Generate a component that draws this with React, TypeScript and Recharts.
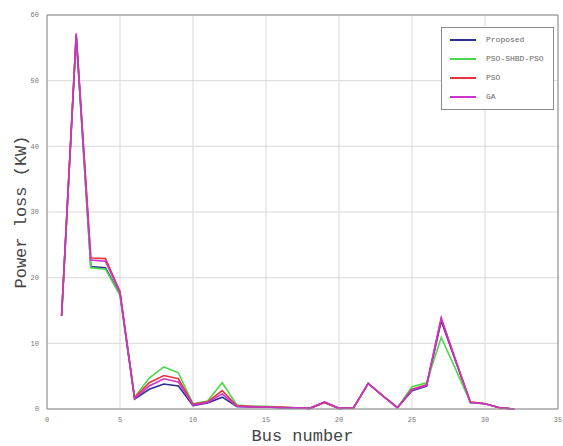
import React from "react";
import {
  LineChart,
  Line,
  XAxis,
  YAxis,
  CartesianGrid,
  ReferenceLine,
  Label,
} from "recharts";

// Bus numbers of the feeder
const busNumbers = [
  1, 2, 3, 4, 5, 6, 7, 8, 9, 10, 11, 12, 13, 14, 15, 16, 17, 18, 19, 20, 21,
  22, 23, 24, 25, 26, 27, 28, 29, 30, 31, 32,
];

// Power loss per bus (kW)
const proposedLoss = [
  14.2, 56.8, 21.7, 21.5, 17.4, 1.5, 3.0, 3.8, 3.5, 0.5, 0.9, 1.8, 0.4, 0.3,
  0.3, 0.2, 0.2, 0.1, 1.0, 0.1, 0.2, 3.9, 2.0, 0.2, 2.8, 3.5, 13.4, 7.2, 1.0,
  0.8, 0.2, 0.0,
];
const psoShbdPsoLoss = [
  14.2, 56.8, 21.5, 21.3, 17.3, 1.8, 4.7, 6.4, 5.5, 0.8, 1.2, 4.0, 0.6, 0.4,
  0.4, 0.3, 0.2, 0.1, 1.0, 0.1, 0.2, 3.9, 2.0, 0.2, 3.4, 4.0, 10.9, 6.0, 1.0,
  0.8, 0.2, 0.0,
];
const psoLoss = [
  14.2, 57.0, 23.0, 22.9, 17.9, 1.7, 4.0, 5.1, 4.6, 0.7, 1.1, 2.8, 0.5, 0.4,
  0.3, 0.3, 0.2, 0.1, 1.0, 0.1, 0.2, 3.9, 2.0, 0.2, 3.0, 3.7, 13.7, 7.3, 1.1,
  0.8, 0.2, 0.0,
];
const gaLoss = [
  14.2, 57.2, 22.7, 22.5, 17.7, 1.6, 3.5, 4.6, 4.1, 0.6, 1.0, 2.3, 0.4, 0.3,
  0.3, 0.2, 0.2, 0.1, 1.1, 0.1, 0.2, 3.9, 2.0, 0.2, 2.9, 3.6, 13.9, 7.4, 1.0,
  0.8, 0.2, 0.0,
];

const xTicks = [0, 5, 10, 15, 20, 25, 30, 35];
const yTicks = [0, 10, 20, 30, 40, 50, 60];

const series = [
  { key: "proposed", name: "Proposed", color: "#2b2f8f" },
  { key: "psoShbdPso", name: "PSO-SHBD-PSO", color: "#4cd84c" },
  { key: "pso", name: "PSO", color: "#e8323c" },
  { key: "ga", name: "GA", color: "#cc33cc" },
];

const data = busNumbers.map((bus, i) => ({
  bus,
  proposed: proposedLoss[i],
  psoShbdPso: psoShbdPsoLoss[i],
  pso: psoLoss[i],
  ga: gaLoss[i],
}));

const mono = "'Liberation Mono', 'DejaVu Sans Mono', monospace";
const frame = "#8c8c8c";

// Legend drawn as an overlay so it doesn't eat into the plot area
const LegendBox = () => (
  <div
    style={{
      position: "absolute",
      left: 441,
      top: 27,
      width: 113,
      boxSizing: "border-box",
      border: `1px solid ${frame}`,
      background: "#fff",
      padding: "2px 0 3px 8px",
      fontFamily: mono,
      fontSize: 8,
      color: "#666",
    }}
  >
    {series.map((s) => (
      <div
        key={s.key}
        style={{ display: "flex", alignItems: "center", height: 19 }}
      >
        <div
          style={{
            width: 26,
            height: 0,
            borderTop: `2px solid ${s.color}`,
            marginRight: 10,
          }}
        />
        <span>{s.name}</span>
      </div>
    ))}
  </div>
);

const App: React.FC = () => {
  return (
    <div style={{ position: "absolute", left: 0, top: 0, background: "#fff" }}>
      <LineChart
        width={563}
        height={446}
        data={data}
        margin={{ top: 15, right: 5, left: 0, bottom: 0 }}
      >
        <CartesianGrid stroke="#d9d9d9" />
        <XAxis
          dataKey="bus"
          type="number"
          domain={[0, 35]}
          ticks={xTicks}
          height={37}
          tickLine={false}
          axisLine={{ stroke: frame }}
          tick={{ fontSize: 7, fill: "#777", fontFamily: mono }}
          tickMargin={2}
        >
          <Label
            value="Bus number"
            position="insideBottom"
            offset={5}
            style={{ fontFamily: mono, fontSize: 17, fill: "#444" }}
          />
        </XAxis>
        <YAxis
          type="number"
          domain={[0, 60]}
          ticks={yTicks}
          width={47}
          tickLine={false}
          axisLine={{ stroke: frame }}
          tick={{ fontSize: 7, fill: "#777", fontFamily: mono }}
          tickMargin={2}
        >
          <Label
            value="Power loss (KW)"
            angle={-90}
            position="insideLeft"
            offset={20}
            style={{
              fontFamily: mono,
              fontSize: 17,
              fill: "#444",
              textAnchor: "middle",
            }}
          />
        </YAxis>
        <ReferenceLine y={60} stroke={frame} />
        <ReferenceLine x={35} stroke={frame} />
        {series.map((s) => (
          <Line
            key={s.key}
            type="linear"
            dataKey={s.key}
            name={s.name}
            stroke={s.color}
            strokeWidth={1.6}
            dot={false}
            isAnimationActive={false}
          />
        ))}
      </LineChart>
      <LegendBox />
    </div>
  );
};

export default App;
